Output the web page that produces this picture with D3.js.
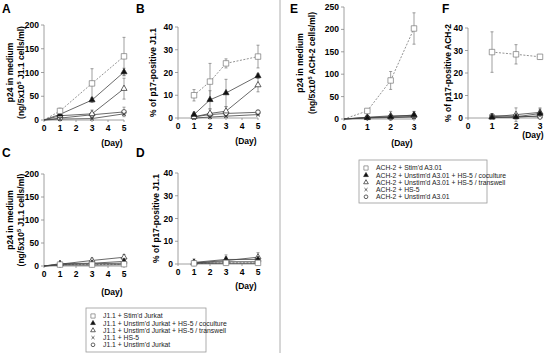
<!DOCTYPE html>
<html>
<head>
<meta charset="utf-8">
<script src="https://cdn.jsdelivr.net/npm/d3@7"></script>
<style>
  body { margin: 0; background: #fff; }
  text { font-family: "Liberation Sans", Arial, sans-serif; }
</style>
</head>
<body>
<div id="chart"></div>
<script>
// ---- data ----
let jurkatLegend = ["J1.1 + Stim'd Jurkat", "J1.1 + Unstim'd Jurkat + HS-5 / coculture",
  "J1.1 + Unstim'd Jurkat + HS-5 / transwell", "J1.1 + HS-5", "J1.1 + Unstim'd Jurkat"];
let achLegend = ["ACH-2 + Stim'd A3.01", "ACH-2 + Unstim'd A3.01 + HS-5 / coculture",
  "ACH-2 + Unstim'd A3.01 + HS-5 / transwell", "ACH-2 + HS-5", "ACH-2 + Unstim'd A3.01"];

// order of series: stim (square), coculture (filled tri), transwell (open tri), HS-5 (x), unstim (circle)
let daysA = [0, 1, 3, 5];
let panelA = [[0, 19, 77, 134], [0, 12, 42, 101], [0, 9, 13, 66], [0, 2, 3, 13], [0, 4, 11, 17]];
let panelAErr = [[0, 6, 31, 40], [0, 3, 5, 8], [0, 3, 8, 22], [0, 1, 2, 3], [0, 2, 4, 10]];

let daysB = [1, 2, 3, 5];
let panelB = [[10, 16, 24, 27], [1.5, 8, 11, 18.5], [0.5, 2, 3, 14.5], [0, 0.4, 0.8, 1.5], [0.5, 1.5, 2, 2.5]];
let panelBErr = [[2.5, 8, 2, 5], [1, 4, 6, 1], [0.5, 2, 2, 3], [0.3, 0.4, 0.5, 0.5], [0.5, 1, 1, 1]];

let daysC = [0, 1, 3, 5];
let panelC = [[0, 3, 3, 4], [0, 5, 6, 10], [0, 4, 12, 19], [0, 2, 2, 3], [0, 3, 5, 6]];
let panelCErr = [[0, 1, 1, 1], [0, 2, 3, 4], [0, 2, 5, 6], [0, 1, 1, 1], [0, 1, 2, 2]];

let daysD = [1, 3, 5];
let panelD = [[0.3, 0.5, 0.5], [0.7, 2, 2], [0.5, 1.5, 3], [0.2, 0.3, 0.3], [0.5, 1, 1]];
let panelDErr = [[0.3, 0.5, 0.5], [1.5, 2, 1], [0.5, 1.5, 2], [0.2, 0.3, 0.3], [0.5, 1, 1]];

let daysE = [0, 1, 2, 3];
let panelE = [[0, 18, 86, 202], [0, 3, 5, 9], [0, 4, 7, 8], [0, 2, 3, 4], [0, 3, 4, 6]];
let panelEErr = [[0, 4, 20, 35], [0, 1, 3, 8], [0, 2, 10, 8], [0, 1, 1, 1], [0, 1, 2, 3]];

let daysF = [1, 2, 3];
let panelF = [[29.3, 28.3, 27.2], [0.3, 0.5, 2], [0.5, 1.5, 2.5], [0.2, 0.3, 1], [1, 0.8, 0.5]];
let panelFErr = [[9, 4.3, 1], [0.3, 0.5, 2], [0.5, 3, 2], [0.2, 0.3, 0.5], [0.5, 0.5, 0.5]];

let p24Ticks = [0, 50, 100, 150, 200];
let p24TicksE = [0, 50, 100, 150, 200, 250];
let pctTicks = [0, 10, 20, 30, 40];

// ---- drawing ----
let W = 550, H = 353;
let svg = d3.select("#chart").append("svg")
  .attr("width", W).attr("height", H);

let symbolTypes = [d3.symbolSquare, d3.symbolTriangle, d3.symbolTriangle, d3.symbolTimes, d3.symbolCircle];
let symbolSizes = [30, 16, 16, 12, 18];
let symbolFill = ["#fff", "#111", "#fff", "none", "#fff"];

function marker(g, i, x, y, k) {
  k = k || 1;
  g.append("path")
    .attr("d", d3.symbol().type(symbolTypes[i]).size(symbolSizes[i] * k)())
    .attr("transform", "translate(" + x + "," + y + ")")
    .style("fill", symbolFill[i])
    .style("stroke", i == 0 ? "#777" : "#222")
    .style("stroke-width", 0.7);
}

function panel(o) {
  let g = svg.append("g");
  let x = d3.scaleLinear().domain([0, o.xmax]).range(o.xr);
  let y = d3.scaleLinear().domain([0, o.ymax]).range(o.yr);

  // y axis
  g.append("line").attr("x1", o.xr[0]).attr("x2", o.xr[0])
    .attr("y1", o.yr[0]).attr("y2", o.yr[1]).style("stroke", "#888").style("stroke-width", 0.8);
  o.yticks.forEach(function(t) {
    g.append("line").attr("x1", o.xr[0] - 3).attr("x2", o.xr[0])
      .attr("y1", y(t)).attr("y2", y(t)).style("stroke", "#888").style("stroke-width", 0.8);
    g.append("text").attr("x", o.xr[0] - 5).attr("y", y(t) + 3)
      .attr("text-anchor", "end").style("font-size", "8.5px").style("font-weight", "bold")
      .text(t);
  });
  // x axis
  g.append("line").attr("x1", o.xr[0]).attr("x2", o.xr[1])
    .attr("y1", o.yr[0]).attr("y2", o.yr[0]).style("stroke", "#888").style("stroke-width", 0.8);
  d3.range(0, o.xmax + 1).forEach(function(t) {
    g.append("line").attr("x1", x(t)).attr("x2", x(t))
      .attr("y1", o.yr[0]).attr("y2", o.yr[0] + 2).style("stroke", "#888").style("stroke-width", 0.8);
    g.append("text").attr("x", x(t)).attr("y", o.yr[0] + 11)
      .attr("text-anchor", "middle").style("font-size", "8.5px").style("font-weight", "bold")
      .text(t);
  });
  g.append("text").attr("x", o.dayX).attr("y", o.dayY)
    .attr("text-anchor", "middle").style("font-size", "8.5px").style("font-weight", "bold")
    .text("(Day)");

  // panel letter
  g.append("text").attr("x", o.letterX).attr("y", o.letterY)
    .style("font-size", "12px").style("font-weight", "bold").text(o.letter);

  // y title
  let yc = (o.yr[0] + o.yr[1]) / 2;
  o.title.forEach(function(line, k) {
    let t = g.append("text")
      .attr("transform", "translate(" + o.titleX[k] + "," + yc + ") rotate(-90)")
      .attr("text-anchor", "middle").style("font-size", "8.5px").style("font-weight", "bold");
    if (typeof line === "object") {
      t.append("tspan").text(line.pre);
      t.append("tspan").attr("dy", -3).style("font-size", "5.5px").text(line.sup);
      t.append("tspan").attr("dy", 3).text(line.post);
    } else {
      t.text(line);
    }
  });

  let line = d3.line().x(function(d) { return x(d[0]); }).y(function(d) { return y(d[1]); });

  // error bars
  o.vals.forEach(function(series, i) {
    series.forEach(function(v, j) {
      let e = o.errs[i][j];
      if (e <= 0) return;
      let cx = x(o.days[j]);
      g.append("line").attr("x1", cx).attr("x2", cx).attr("y1", y(v - e)).attr("y2", y(v + e))
        .style("stroke", "#777").style("stroke-width", 0.7);
      [v - e, v + e].forEach(function(w) {
        g.append("line").attr("x1", cx - 1.5).attr("x2", cx + 1.5).attr("y1", y(w)).attr("y2", y(w))
          .style("stroke", "#777").style("stroke-width", 0.7);
      });
    });
  });
  // lines
  o.vals.forEach(function(series, i) {
    g.append("path").datum(series.map(function(v, j) { return [o.days[j], v]; }))
      .attr("d", line).style("fill", "none")
      .style("stroke", i == 0 ? "#777" : "#444")
      .style("stroke-width", 0.8)
      .style("stroke-dasharray", i == 0 ? "2,1.5" : null);
  });
  // markers (skip the origin points)
  [4, 3, 2, 1, 0].forEach(function(i) {
    o.vals[i].forEach(function(v, j) {
      if (o.days[j] == 0) return;
      marker(g, i, x(o.days[j]), y(v));
    });
  });
}

let p24J = ["p24 in medium", {pre: "(ng/5x10", sup: "5", post: " J1.1 cells/ml)"}];
let p24A = ["p24 in medium", {pre: "(ng/5x10", sup: "5", post: " ACH-2 cells/ml)"}];

panel({letter: "A", letterX: 2, letterY: 13, xmax: 5, xr: [44, 124], ymax: 200, yr: [120, 25],
  yticks: p24Ticks, days: daysA, vals: panelA, errs: panelAErr,
  title: p24J, titleX: [13, 24], dayX: 112, dayY: 146});
panel({letter: "B", letterX: 136, letterY: 13, xmax: 5, xr: [178, 258], ymax: 40, yr: [118, 27],
  yticks: pctTicks, days: daysB, vals: panelB, errs: panelBErr,
  title: ["% of p17-positive J1.1"], titleX: [156], dayX: 246, dayY: 144});
panel({letter: "C", letterX: 2, letterY: 157, xmax: 5, xr: [44, 124], ymax: 200, yr: [266, 174],
  yticks: p24Ticks, days: daysC, vals: panelC, errs: panelCErr,
  title: p24J, titleX: [13, 24], dayX: 112, dayY: 295});
panel({letter: "D", letterX: 136, letterY: 157, xmax: 5, xr: [178, 258], ymax: 40, yr: [264, 173],
  yticks: pctTicks, days: daysD, vals: panelD, errs: panelDErr,
  title: ["% of p17-positive J1.1"], titleX: [159], dayX: 246, dayY: 289});
panel({letter: "E", letterX: 290, letterY: 13, xmax: 3, xr: [344, 414], ymax: 250, yr: [119, 7],
  yticks: p24TicksE, days: daysE, vals: panelE, errs: panelEErr,
  title: p24A, titleX: [303, 315], dayX: 402, dayY: 146});
panel({letter: "F", letterX: 442, letterY: 13, xmax: 3, xr: [468, 540], ymax: 40, yr: [118, 28],
  yticks: pctTicks, days: daysF, vals: panelF, errs: panelFErr,
  title: ["% of p17-positive ACH-2"], titleX: [451], dayX: 533, dayY: 138});

// divider
svg.append("line").attr("x1", 280).attr("x2", 280).attr("y1", 0).attr("y2", H)
  .style("stroke", "#999").style("stroke-width", 0.8);

function legend(x0, y0, w, h, labels) {
  let g = svg.append("g");
  g.append("rect").attr("x", x0).attr("y", y0).attr("width", w).attr("height", h)
    .style("fill", "#fff").style("stroke", "#999").style("stroke-width", 0.8);
  labels.forEach(function(lab, i) {
    let yy = y0 + 8 + i * 7.2;
    marker(g, i, x0 + 7, yy, 0.6);
    g.append("text").attr("x", x0 + 17).attr("y", yy + 2.3)
      .style("font-size", "6.8px").style("fill", "#222").text(lab);
  });
}
legend(86, 308, 120, 44, jurkatLegend);
legend(359, 160, 128, 43, achLegend);
</script>
</body>
</html>
